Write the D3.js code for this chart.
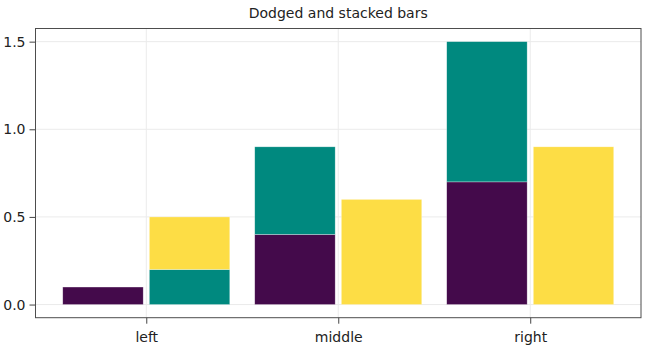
<!DOCTYPE html>
<html>
<head>
<meta charset="utf-8">
<script src="https://cdn.jsdelivr.net/npm/d3@7"></script>
<style>
  body { margin: 0; background: #fff; }
  text { font-family: 'DejaVu Sans', sans-serif; fill: #222; }
</style>
</head>
<body>
<svg width="655" height="351"></svg>
<script>
const categories = ['left', 'middle', 'right']
const xs = [1, 1, 1, 2, 2, 2, 3, 3, 3]
const heights = [0.1, 0.2, 0.3, 0.4, 0.5, 0.6, 0.7, 0.8, 0.9]
const groups = [1, 2, 3, 1, 2, 3, 1, 2, 3]
const dodges = [1, 2, 2, 1, 1, 2, 1, 1, 2]
const yTicks = [0, 0.5, 1.0, 1.5]
const colors = ['#440a4b', '#00897f', '#fddd45']

const svg = d3.select('svg')
const margin = { top: 28.5, right: 14, bottom: 33.3, left: 35.5 }
const width = +svg.attr('width')
const height = +svg.attr('height')
const innerWidth = width - margin.left - margin.right
const innerHeight = height - margin.top - margin.bottom

const xScale = d3.scaleLinear()
  .domain([0.423, 3.577])
  .range([0, innerWidth])

const yScale = d3.scaleLinear()
  .domain([-0.075, 1.575])
  .range([innerHeight, 0])

const g = svg.append('g')
  .attr('transform', `translate(${margin.left}, ${margin.top})`)

// grid
g.append('g').selectAll('line.gx').data([1, 2, 3])
  .enter().append('line')
  .attr('x1', d => xScale(d)).attr('x2', d => xScale(d))
  .attr('y1', 0).attr('y2', innerHeight)
  .attr('stroke', '#ebebeb')
g.append('g').selectAll('line.gy').data(yTicks)
  .enter().append('line')
  .attr('y1', d => yScale(d)).attr('y2', d => yScale(d))
  .attr('x1', 0).attr('x2', innerWidth)
  .attr('stroke', '#ebebeb')

// bars: dodge then stack
const totalWidth = 0.87
const dodgeGap = 0.032
const barW = (totalWidth - dodgeGap) / 2
const offsets = {}
const bars = heights.map((h, i) => {
  const key = xs[i] + '-' + dodges[i]
  const y0 = offsets[key] || 0
  offsets[key] = y0 + h
  const left = xs[i] - totalWidth / 2 + (dodges[i] - 1) * (barW + dodgeGap)
  return { x0: left, x1: left + barW, y0, y1: y0 + h, grp: groups[i] }
})

g.append('g').selectAll('rect').data(bars)
  .enter().append('rect')
  .attr('x', d => xScale(d.x0))
  .attr('width', d => xScale(d.x1) - xScale(d.x0))
  .attr('y', d => yScale(d.y1))
  .attr('height', d => yScale(d.y0) - yScale(d.y1))
  .attr('fill', d => colors[d.grp - 1])
  .attr('stroke', 'rgba(255,255,255,0.5)')
  .attr('stroke-width', 0.6)

// axes
const xAxis = d3.axisBottom(xScale)
  .tickValues([1, 2, 3])
  .tickFormat(d => categories[d - 1])
  .tickSize(6)
  .tickPadding(8)
const xAxisGroup = g.append('g')
  .attr('transform', `translate(0, ${innerHeight})`)
  .call(xAxis)
xAxisGroup.select('.domain').remove()
xAxisGroup.selectAll('text').attr('font-size', 14).attr('fill', '#222')
  .style('font-family', "'DejaVu Sans', sans-serif")
xAxisGroup.selectAll('.tick line').attr('stroke', '#444')

const yAxis = d3.axisLeft(yScale)
  .tickValues(yTicks)
  .tickFormat(d3.format('.1f'))
  .tickSize(6)
  .tickPadding(4)
const yAxisGroup = g.append('g').call(yAxis)
yAxisGroup.select('.domain').remove()
yAxisGroup.selectAll('text').attr('font-size', 14).attr('fill', '#222')
  .style('font-family', "'DejaVu Sans', sans-serif")
yAxisGroup.selectAll('.tick line').attr('stroke', '#444')

// frame
g.append('rect')
  .attr('width', innerWidth)
  .attr('height', innerHeight)
  .attr('fill', 'none')
  .attr('stroke', '#4d4d4d')
  .attr('stroke-width', 1)

svg.append('text')
  .attr('x', margin.left + innerWidth / 2)
  .attr('y', 18)
  .attr('text-anchor', 'middle')
  .attr('font-size', 14)
  .text('Dodged and stacked bars')
</script>
</body>
</html>
